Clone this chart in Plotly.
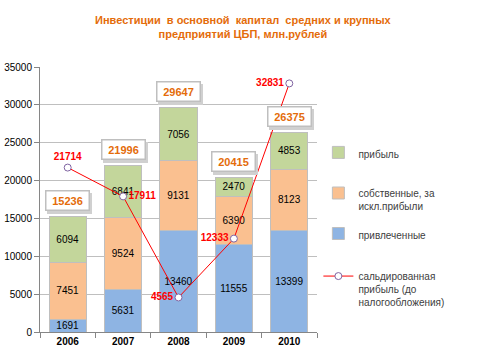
import plotly.graph_objects as go

years = ["2006", "2007", "2008", "2009", "2010"]
attracted = [1691, 5631, 13460, 11555, 13399]
own_excl_profit = [7451, 9524, 9131, 6390, 8123]
profit = [6094, 6841, 7056, 2470, 4853]
totals = [15236, 21996, 29647, 20415, 26375]
net_profit = [21714, 17911, 4565, 12333, 32831]
net_profit_pos = ["top center", "middle right", "middle left", "middle left", "middle left"]

FONT = "Liberation Sans"
fig = go.Figure()

bar_line = dict(color="#BFBFBF", width=1)
lab_font = dict(family=FONT, size=10, color="#000000")

fig.add_trace(go.Bar(x=years, y=attracted, name="привлеченные", legend="legend3",
                     marker=dict(color="#8EB4E3", line=bar_line),
                     text=[str(v) for v in attracted], textposition="inside",
                     insidetextanchor="middle", textfont=lab_font, hoverinfo="skip"))
fig.add_trace(go.Bar(x=years, y=own_excl_profit, name="собственные, за<br>искл.прибыли", legend="legend2",
                     marker=dict(color="#FAC090", line=bar_line),
                     text=[str(v) for v in own_excl_profit], textposition="inside",
                     insidetextanchor="middle", textfont=lab_font, hoverinfo="skip"))
fig.add_trace(go.Bar(x=years, y=profit, name="прибыль", legend="legend",
                     marker=dict(color="#C3D69B", line=bar_line),
                     text=[str(v) for v in profit], textposition="inside",
                     insidetextanchor="middle", textfont=lab_font, hoverinfo="skip"))
fig.add_trace(go.Scatter(x=years, y=net_profit, name="сальдированная<br>прибыль (до<br>налогообложения)",
                         legend="legend4", mode="lines+markers+text",
                         line=dict(color="#FF0000", width=1),
                         marker=dict(symbol="circle", size=7, color="white",
                                     line=dict(color="#8064A2", width=1)),
                         text=[f"<b>{v}</b>" for v in net_profit], textposition=net_profit_pos,
                         textfont=dict(family=FONT, size=10, color="#FF0000")))

# total labels in boxes with a soft shadow (category index positions)
for i, t in enumerate(totals):
    fig.add_annotation(x=i, y=t, xref="x", yref="y", text=f"<b>{t}</b>", showarrow=False,
                       yshift=13, xshift=2, width=38, height=14,
                       font=dict(family=FONT, size=11, color="rgba(0,0,0,0)"),
                       bgcolor="#D0D0D0", bordercolor="#D0D0D0", borderwidth=1.5, borderpad=2)
    fig.add_annotation(x=i, y=t, xref="x", yref="y", text=f"<b>{t}</b>", showarrow=False,
                       yshift=16, width=38, height=14,
                       font=dict(family=FONT, size=11, color="#E46C0A"),
                       bgcolor="white", bordercolor="#BFBFBF", borderwidth=1.5, borderpad=2)

leg_common = dict(font=dict(family=FONT, size=10, color="#404040"), bgcolor="rgba(0,0,0,0)",
                  xanchor="left", yanchor="middle", valign="top", itemwidth=30)
fig.update_layout(
    barmode="stack", bargap=0.33,
    width=480, height=360,
    margin=dict(l=40, r=163, t=67, b=28, autoexpand=False),
    paper_bgcolor="white", plot_bgcolor="white",
    title=dict(text="<b>Инвестиции  в основной  капитал  средних и крупных<br>предприятий ЦБП, млн.рублей</b>",
               x=0.506, xref="container", xanchor="center", y=0.933, yref="container", yanchor="top",
               font=dict(family=FONT, size=11, color="#E46C0A")),
    uniformtext=dict(minsize=10, mode="show"),
    legend=dict(x=1.005, y=0.672, **leg_common),
    legend2=dict(x=1.005, y=0.50, **leg_common),
    legend3=dict(x=1.005, y=0.366, **leg_common),
    legend4=dict(x=1.005, y=0.162, **leg_common),
    xaxis=dict(type="category", range=[-0.5, 4.5], automargin=False, showgrid=False,
               showline=True, linecolor="#868686", linewidth=1,
               ticks="outside", tickson="boundaries", ticklen=5, tickcolor="#868686",
               tickfont=dict(family=FONT, size=10, color="#000000", weight="bold")),
    yaxis=dict(range=[0, 35000], dtick=5000, tickformat="d", automargin=False, showgrid=True,
               gridcolor="#BFBFBF", gridwidth=1, showline=True, linecolor="#868686", linewidth=1,
               ticks="outside", ticklen=5, tickcolor="#868686", zeroline=False,
               tickfont=dict(family=FONT, size=10, color="#000000")),
    showlegend=True,
)

fig.write_html("out.html", config={"displayModeBar": False},
               post_script="document.body.style.margin='0';")
